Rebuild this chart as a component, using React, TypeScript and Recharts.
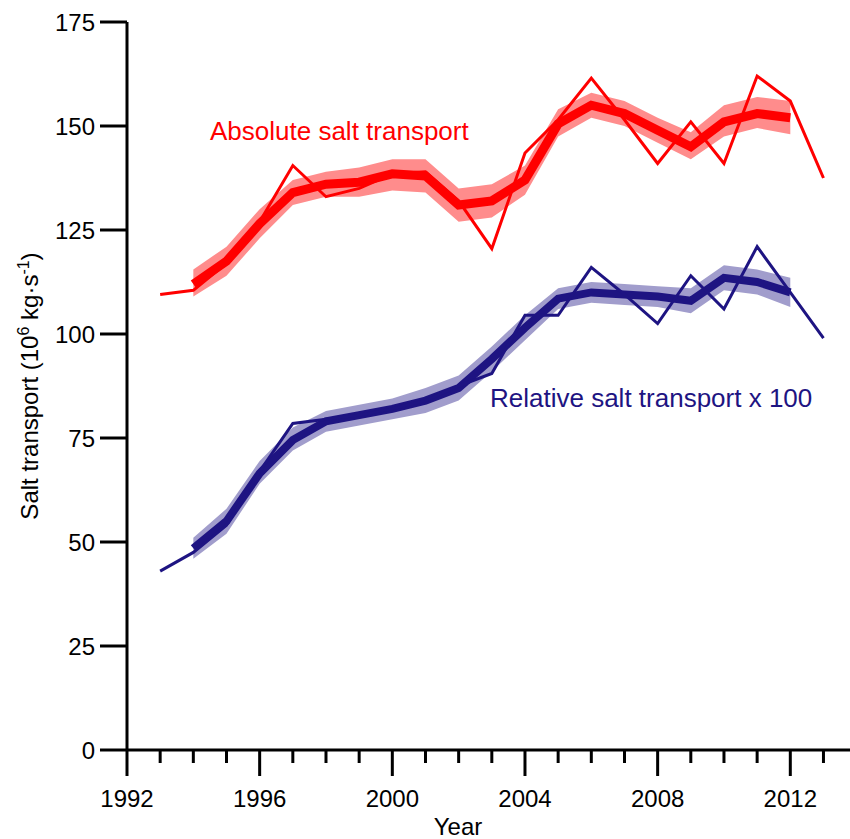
import React from 'react';
import {
  ComposedChart,
  Line,
  Area,
  XAxis,
  YAxis,
  Customized,
} from 'recharts';

// years of the annual series
const years = [
  1993, 1994, 1995, 1996, 1997, 1998, 1999, 2000, 2001, 2002, 2003,
  2004, 2005, 2006, 2007, 2008, 2009, 2010, 2011, 2012, 2013,
];

// absolute salt transport, annual values
const absAnnual = [
  109.5, 110.5, 117, 127, 140.5, 133, 135, 138.5, 139, 132, 120.5,
  143.5, 151.5, 161.5, 151.5, 141, 151, 141, 162, 156, 137.5,
];

// relative salt transport x 100, annual values
const relAnnual = [
  43, 47.5, 54, 67, 78.5, 79.5, 80.5, 82, 84, 87.5, 90.5,
  104.5, 104.5, 116, 109.5, 102.5, 114, 106, 121, 110, 99,
];

// smoothed series cover 1994-2012
const smoothYears = [
  1994, 1995, 1996, 1997, 1998, 1999, 2000, 2001, 2002, 2003,
  2004, 2005, 2006, 2007, 2008, 2009, 2010, 2011, 2012,
];

const absSmooth = [
  112, 117.5, 126.5, 134, 136, 136.5, 138.5, 138, 131, 132,
  137, 150.5, 155, 153, 149, 145, 151, 153, 152,
];
const absLow = [
  109, 114, 123, 131, 133, 133, 134.5, 134, 127, 128,
  133.5, 147.5, 152, 150, 146, 142, 147.5, 149.5, 148,
];
const absHigh = [
  115.5, 121, 130, 137, 139, 140, 142, 142, 135, 136,
  140.5, 154, 158, 156, 152, 148.5, 155, 157, 156,
];

const relSmooth = [
  48.5, 55, 66.5, 74.5, 79, 80.5, 82, 84, 87, 94,
  101.5, 108.5, 110, 109.5, 109, 108, 113.5, 112.5, 110,
];
const relLow = [
  46, 52, 64, 72, 76.5, 78, 79.5, 81, 84, 91,
  98.5, 106, 107.5, 107, 106.5, 105, 110.5, 109.5, 106.5,
];
const relHigh = [
  51, 58, 69.5, 77.5, 81.5, 83, 84.5, 87, 90, 97,
  104.5, 111, 112.5, 112, 111.5, 111, 116.5, 115.5, 113.5,
];

const xTicks = [
  1992, 1993, 1994, 1995, 1996, 1997, 1998, 1999, 2000, 2001, 2002,
  2003, 2004, 2005, 2006, 2007, 2008, 2009, 2010, 2011, 2012, 2013,
];
const yTicks = [0, 25, 50, 75, 100, 125, 150, 175];

const RED = '#ff0000';
const RED_BAND = '#ff8c8c';
const BLUE = '#1e1482';
const BLUE_BAND = '#a19dcc';
const FONT = '"Liberation Sans", Arial, sans-serif';

const data = years.map((year, i) => {
  const j = smoothYears.indexOf(year);
  return {
    year,
    absAnnual: absAnnual[i],
    relAnnual: relAnnual[i],
    absSmooth: j >= 0 ? absSmooth[j] : null,
    relSmooth: j >= 0 ? relSmooth[j] : null,
    absBand: j >= 0 ? [absLow[j], absHigh[j]] : null,
    relBand: j >= 0 ? [relLow[j], relHigh[j]] : null,
  };
});

const YearTick = (props: any) => {
  const { x, y, payload } = props;
  const major = (payload.value - 1992) % 4 === 0;
  return (
    <g>
      <line x1={x} x2={x} y1={y} y2={y + (major ? 26 : 13)} stroke="#000" strokeWidth={3} />
      {major && (
        <text x={x} y={y + 57} textAnchor="middle" fontSize={24} fontFamily={FONT} fill="#000">
          {payload.value}
        </text>
      )}
    </g>
  );
};

const Texts = () => (
  <g fontFamily={FONT}>
    <text x={210} y={140} fontSize={26} fill={RED}>
      Absolute salt transport
    </text>
    <text x={490} y={407} fontSize={26} fill={BLUE}>
      Relative salt transport x 100
    </text>
    <text x={458} y={835} fontSize={24} textAnchor="middle" fill="#000">
      Year
    </text>
    <text
      x={38}
      y={386}
      fontSize={24}
      textAnchor="middle"
      fill="#000"
      transform="rotate(-90 38 386)"
    >
      Salt transport (10
      <tspan fontSize={16} dy={-9}>6</tspan>
      <tspan dy={9}> kg·s</tspan>
      <tspan fontSize={16} dy={-9}>-1</tspan>
      <tspan dy={9}>)</tspan>
    </text>
  </g>
);

const App: React.FC = () => {
  return (
    <div style={{ position: 'absolute', left: 0, top: 0, background: '#fff' }}>
      <ComposedChart
        width={850}
        height={839}
        data={data}
        margin={{ top: 22, right: 0, bottom: 29, left: 0 }}
      >
        <XAxis
          dataKey="year"
          type="number"
          domain={[1992, 2013.8]}
          ticks={xTicks}
          interval={0}
          height={60}
          tickSize={0}
          tickMargin={0}
          tickLine={false}
          tick={<YearTick />}
          axisLine={{ stroke: '#000', strokeWidth: 3 }}
        />
        <YAxis
          type="number"
          domain={[0, 175]}
          ticks={yTicks}
          interval={0}
          width={127}
          tickSize={27}
          tickMargin={5}
          tickLine={{ stroke: '#000', strokeWidth: 3 }}
          axisLine={{ stroke: '#000', strokeWidth: 3 }}
          tick={{ fill: '#000', fontSize: 24, fontFamily: FONT }}
        />
        <Area
          dataKey="absBand"
          stroke="none"
          fill={RED_BAND}
          fillOpacity={1}
          isAnimationActive={false}
        />
        <Area
          dataKey="relBand"
          stroke="none"
          fill={BLUE_BAND}
          fillOpacity={1}
          isAnimationActive={false}
        />
        <Line
          dataKey="absSmooth"
          stroke={RED}
          strokeWidth={9}
          dot={false}
          isAnimationActive={false}
        />
        <Line
          dataKey="relSmooth"
          stroke={BLUE}
          strokeWidth={8}
          dot={false}
          isAnimationActive={false}
        />
        <Line
          dataKey="absAnnual"
          stroke={RED}
          strokeWidth={3}
          dot={false}
          isAnimationActive={false}
        />
        <Line
          dataKey="relAnnual"
          stroke={BLUE}
          strokeWidth={3}
          dot={false}
          isAnimationActive={false}
        />
        <Customized component={Texts} />
      </ComposedChart>
    </div>
  );
};

export default App;
